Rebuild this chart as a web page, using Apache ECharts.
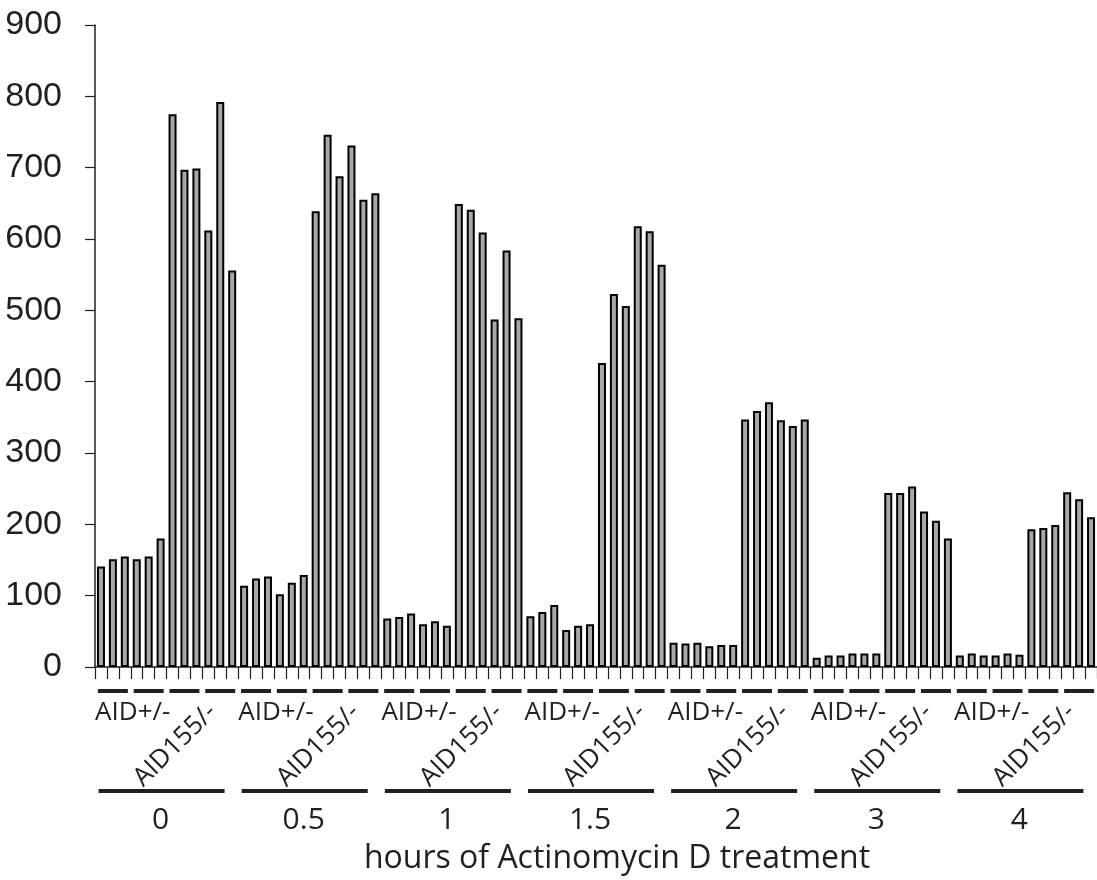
<!DOCTYPE html>
<html>
<head>
<meta charset="utf-8">
<script src="https://cdn.jsdelivr.net/npm/echarts@6/dist/echarts.min.js"></script>
<style>
  html, body { margin: 0; padding: 0; background: #fff; }
  #chart { width: 1097px; height: 880px; }
</style>
</head>
<body>
<div id="chart"></div>
<script>
// time points (hours of Actinomycin D)
const hours = ['0', '0.5', '1', '1.5', '2', '3', '4'];
const genotypes = ['AID+/-', 'AID155/-'];

// 6 bars per genotype per time point
const aidHet = [
    [141, 151, 155, 151, 155, 180],
    [114, 124, 127, 102, 118, 129],
    [68, 70, 75, 60, 64, 58],
    [71, 77, 87, 52, 58, 60],
    [34, 33, 34, 29, 31, 31],
    [13, 16, 16, 19, 19, 19],
    [16, 19, 16, 16, 19, 17]
];
const aid155 = [
    [775, 697, 699, 612, 792, 556],
    [639, 746, 688, 731, 655, 664],
    [649, 641, 609, 487, 584, 489],
    [426, 523, 506, 618, 611, 564],
    [347, 359, 371, 346, 338, 347],
    [244, 244, 253, 218, 205, 180],
    [193, 195, 199, 245, 235, 210]
];

const perGroup = 12;
const ink = '#231f20';

// build the flat bar list from the arrays above
let categories = [];
let barData = [];
hours.forEach(function(h, g) {
    aidHet[g].concat(aid155[g]).forEach(function(v, i) {
        categories.push(h + '-' + i);
        barData.push(v);
    });
});

var dom = document.getElementById('chart');
var myChart = echarts.init(dom, null, { renderer: 'canvas' });

// dashes, genotype labels, group lines and time labels under the axis
function renderGroup(params, api) {
    const g = params.dataIndex;
    const start = g * perGroup;
    const band = api.size([1, 0])[0];
    const p0 = api.coord([start, 0]);
    const x0 = p0[0];
    const zero = p0[1];
    let children = [];

    for (let k = 0; k < 4; k++) {
        const c = x0 + (k * 3 + 1) * band;
        children.push({
            type: 'line',
            shape: { x1: c - 15, y1: zero + 24, x2: c + 15, y2: zero + 24 },
            style: { stroke: ink, lineWidth: 4 }
        });
    }
    children.push({
        type: 'text',
        x: x0 + 2.5 * band + 2,
        y: zero + 46,
        style: {
            text: genotypes[0], fill: ink, font: '26px "Open Sans"',
            align: 'center', verticalAlign: 'middle'
        }
    });
    children.push({
        type: 'text',
        x: x0 + 8.5 * band + 10,
        y: zero + 41,
        rotation: Math.PI / 4,
        style: {
            text: genotypes[1], fill: ink, font: '26px "Open Sans"',
            align: 'right', verticalAlign: 'middle'
        }
    });
    const mid = x0 + 5.5 * band;
    children.push({
        type: 'line',
        shape: { x1: mid - 68, y1: zero + 124, x2: mid + 58, y2: zero + 124 },
        style: { stroke: ink, lineWidth: 4 }
    });
    children.push({
        type: 'text',
        x: mid - 6,
        y: zero + 153,
        style: {
            text: hours[g], fill: ink, font: '30px "Open Sans"',
            align: 'center', verticalAlign: 'middle'
        }
    });
    return { type: 'group', children: children };
}

var option = {
    animation: false,
    grid: {
        left: 95,
        right: 0,
        top: 25,
        bottom: 213,
        containLabel: false,
        outerBoundsMode: 'none'
    },
    xAxis: {
        type: 'category',
        data: categories,
        axisLine: { lineStyle: { color: ink, width: 1.5 } },
        axisTick: { show: true, interval: 0, length: 12, lineStyle: { color: ink, width: 1.2 } },
        axisLabel: { show: false },
        name: 'hours of Actinomycin D treatment',
        nameLocation: 'middle',
        nameGap: 176,
        nameTextStyle: {
            fontFamily: 'Open Sans',
            fontSize: 32,
            color: ink,
            padding: [0, 0, 0, 42]
        }
    },
    yAxis: {
        type: 'value',
        min: 0,
        max: 900,
        interval: 100,
        splitLine: { show: false },
        axisLine: { show: true, lineStyle: { color: ink, width: 1.5 } },
        axisTick: { show: true, length: 10, lineStyle: { color: ink, width: 1.2 } },
        axisLabel: {
            fontFamily: '"Liberation Sans Narrow", "Liberation Sans", Arial',
            fontSize: 34,
            color: ink,
            margin: 33
        }
    },
    series: [{
        type: 'bar',
        data: barData,
        barWidth: 8,
        itemStyle: {
            color: '#a8a8a8',
            borderColor: '#000',
            borderWidth: 2
        },
        silent: true
    }, {
        type: 'custom',
        data: hours.map(function(h, g) { return [g * perGroup, 0]; }),
        renderItem: renderGroup,
        clip: false,
        silent: true
    }]
};

myChart.setOption(option);
</script>
</body>
</html>
